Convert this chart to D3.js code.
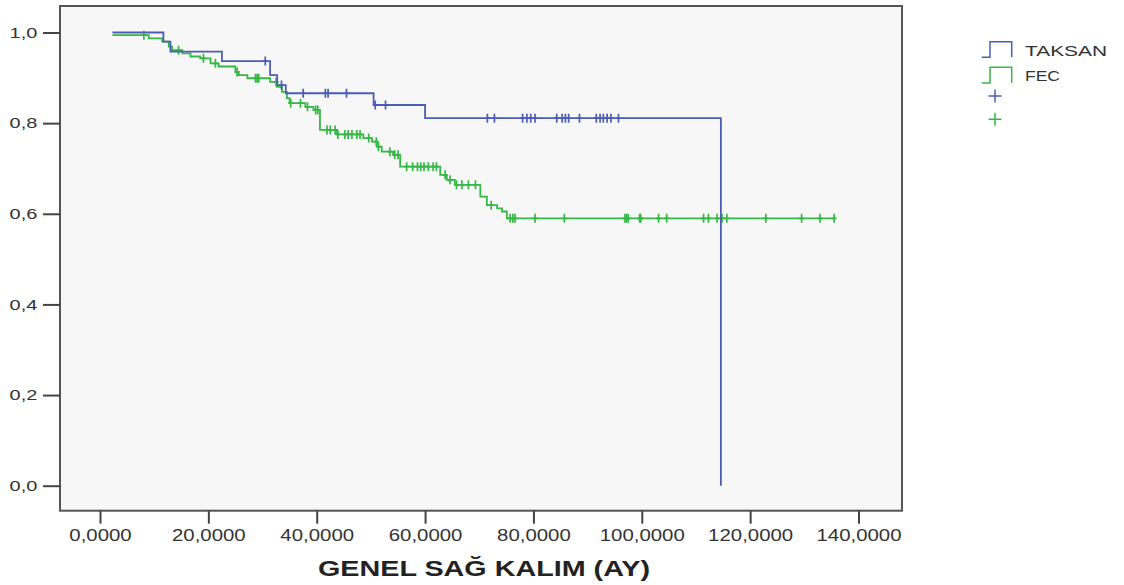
<!DOCTYPE html>
<html>
<head>
<meta charset="utf-8">
<script src="https://cdn.jsdelivr.net/npm/d3@7"></script>
<style>
  body { margin: 0; background: #fff; }
  svg { font-family: "Liberation Sans", Arial, sans-serif; }
</style>
</head>
<body>
<svg id="chart" width="1124" height="585"></svg>
<script>
// TAKSAN group: step times and survival after each step
var taksanTimes = [2.3, 11.7, 13.0, 22.5, 31.4, 32.7, 34.3, 50.5, 60.0, 114.6];
var taksanSurv  = [1.0, 0.980, 0.958, 0.937, 0.906, 0.884, 0.866, 0.840, 0.811, 0.0];
var taksanCensored = [30.5, 33.5, 37.5, 41.6, 42.1, 45.5, 50.8, 52.7, 71.5, 72.8,
    78.0, 78.8, 79.5, 80.3, 84.3, 85.3, 85.9, 86.5, 88.5, 91.6, 92.3, 92.9, 93.6, 94.3, 95.7];

// FEC group
var fecTimes = [2.3, 9.0, 11.5, 12.7, 13.3, 15.2, 16.7, 18.5, 20.4, 21.9, 25.0, 25.6, 27.2,
    31.4, 32.7, 33.6, 34.5, 35.0, 37.9, 39.4, 40.6, 43.7, 48.6, 50.2, 51.1, 52.0, 54.1, 55.4,
    62.8, 64.0, 65.5, 70.2, 71.4, 73.3, 74.2, 75.1];
var fecSurv = [0.994, 0.987, 0.980, 0.969, 0.961, 0.954, 0.947, 0.943, 0.932, 0.925, 0.913, 0.906, 0.899,
    0.891, 0.880, 0.869, 0.855, 0.844, 0.836, 0.829, 0.785, 0.775, 0.767, 0.759, 0.748, 0.737, 0.730, 0.704,
    0.686, 0.675, 0.664, 0.638, 0.619, 0.612, 0.605, 0.590];
var fecCensored = [8.1, 14.5, 19.1, 21.3, 25.3, 28.7, 29.0, 29.3, 32.5, 35.2, 37.0, 38.3, 39.8, 40.2,
    41.9, 42.5, 43.4, 43.9, 45.2, 45.8, 46.5, 47.4, 48.0, 49.6, 51.0, 51.4, 53.5, 54.4, 55.0, 56.6,
    57.7, 58.6, 59.2, 59.8, 60.6, 61.5, 62.1, 63.7, 64.6, 65.8, 66.8, 68.0, 69.3, 72.2, 75.7, 76.2,
    76.6, 80.3, 85.7, 96.9, 97.2, 97.5, 99.6, 99.8, 103.1, 104.6, 111.4, 112.3, 113.9, 114.8, 115.7,
    122.9, 129.5, 132.9, 135.5];

var xTicks = [0, 20, 40, 60, 80, 100, 120, 140];
var yTicks = [0, 0.2, 0.4, 0.6, 0.8, 1.0];
var groupNames = ["TAKSAN", "FEC"];
var groupColors = ["#4d5db3", "#36b846"];

var frame = {left: 60, top: 6, right: 902, bottom: 510.7};

var svg = d3.select("#chart");

var x = d3.scaleLinear().domain([0, 140]).range([100, 858.5]);
var y = d3.scaleLinear().domain([0, 1]).range([485.7, 32.5]);

// plot background + frame
svg.append("rect")
    .attr("x", frame.left)
    .attr("y", frame.top)
    .attr("width", frame.right - frame.left)
    .attr("height", frame.bottom - frame.top)
    .attr("fill", "#f7f7f7")
    .attr("stroke", "#555")
    .attr("stroke-width", 2);

var comma = function(s) { return s.replace(".", ","); };

// x axis
var gx = svg.append("g")
    .attr("transform", "translate(0," + frame.bottom + ")")
    .call(d3.axisBottom(x)
        .tickValues(xTicks)
        .tickSize(13)
        .tickPadding(5)
        .tickFormat(function(d) { return comma(d3.format(".4f")(d)); }));
gx.select(".domain").remove();
gx.selectAll(".tick line").attr("stroke", "#444").attr("stroke-width", 2);
gx.selectAll(".tick text")
    .attr("fill", "#333")
    .style("font-size", "17px")
    .attr("transform", "scale(1.2,1)");

// y axis
var gy = svg.append("g")
    .attr("transform", "translate(" + frame.left + ",0)")
    .call(d3.axisLeft(y)
        .tickValues(yTicks)
        .tickSize(17)
        .tickFormat(function(d) { return comma(d3.format(".1f")(d)); }));
gy.select(".domain").remove();
gy.selectAll(".tick line").attr("stroke", "#444").attr("stroke-width", 2);
gy.selectAll(".tick text")
    .attr("fill", "#333")
    .attr("x", 0)
    .style("font-size", "15px")
    .attr("transform", "translate(-22.7,0) scale(1.33,1)");

// axis title
svg.append("text")
    .attr("x", 484)
    .attr("y", 576)
    .attr("text-anchor", "middle")
    .attr("textLength", 332)
    .attr("lengthAdjust", "spacingAndGlyphs")
    .style("font-size", "22px")
    .style("font-weight", "bold")
    .attr("fill", "#222")
    .text("GENEL SAĞ KALIM (AY)");

var line = d3.line()
    .x(function(d) { return x(d[0]); })
    .y(function(d) { return y(d[1]); })
    .curve(d3.curveStepAfter);

function survAt(times, surv, t) {
    var s = surv[0];
    for (var i = 0; i < times.length; i++) {
        if (times[i] <= t) s = surv[i];
    }
    return s;
}

function drawGroup(times, surv, censored, color) {
    var pts = times.map(function(t, i) { return [t, surv[i]]; });
    var lastT = d3.max(censored);
    if (lastT > times[times.length - 1]) pts.push([lastT, surv[surv.length - 1]]);

    svg.append("path")
        .datum(pts)
        .attr("d", line)
        .attr("fill", "none")
        .attr("stroke", color)
        .attr("stroke-width", 1.8);

    svg.append("g")
        .selectAll("path")
        .data(censored)
        .enter()
        .append("path")
        .attr("d", function(t) {
            var cx = x(t), cy = y(survAt(times, surv, t));
            return "M" + cx + "," + (cy - 4.5) + "V" + (cy + 4.5) +
                   "M" + (cx - 2.5) + "," + cy + "H" + (cx + 2.5);
        })
        .attr("stroke", color)
        .attr("stroke-width", 1.7);
}

drawGroup(fecTimes, fecSurv, fecCensored, groupColors[1]);
drawGroup(taksanTimes, taksanSurv, taksanCensored, groupColors[0]);

// legend
var legend = svg.append("g");
var legendTop = [41.7, 67.3];
var legendWidths = [82, 35];
groupNames.forEach(function(name, i) {
    var t = legendTop[i], b = t + 15.6;
    legend.append("path")
        .attr("d", "M981.7," + b + "H990V" + t + "H1011.7V" + b)
        .attr("fill", "none")
        .attr("stroke", groupColors[i])
        .attr("stroke-width", 1.5);
    legend.append("text")
        .attr("x", 1025)
        .attr("y", b - 1.5)
        .attr("textLength", legendWidths[i])
        .attr("lengthAdjust", "spacingAndGlyphs")
        .style("font-size", "15px")
        .attr("fill", "#333")
        .text(name);
});
[96, 119.3].forEach(function(cy, i) {
    legend.append("path")
        .attr("d", "M988.5," + cy + "H1001.5M995," + (cy - 6.5) + "V" + (cy + 6.5))
        .attr("stroke", groupColors[i])
        .attr("stroke-width", 1.5);
});
</script>
</body>
</html>
